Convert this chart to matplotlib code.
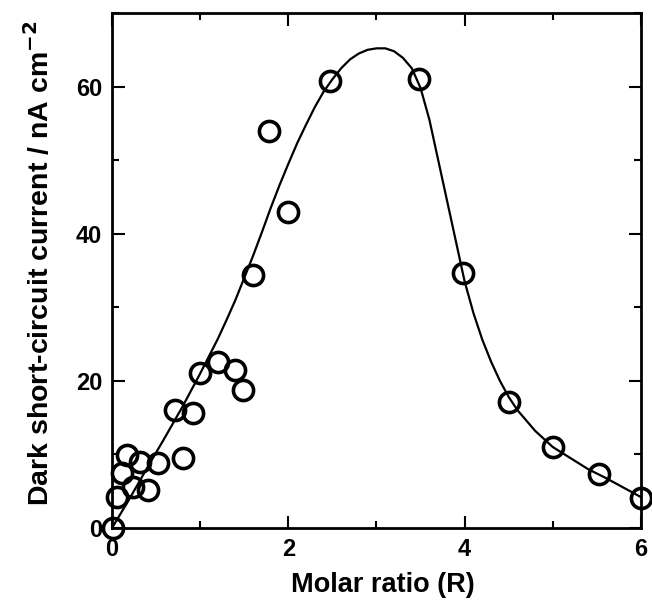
import numpy as np
import matplotlib.pyplot as plt

# measured points (molar ratio R, current nA cm-2)
ratio = [0.01, 0.06, 0.11, 0.17, 0.24, 0.32, 0.41, 0.52, 0.80,
         0.71, 0.92, 1.00, 1.20, 1.39, 1.49, 1.60, 1.78, 2.00,
         2.47, 3.48, 3.98, 4.50, 5.00, 5.52, 6.00]
current = [0.0, 4.2, 7.5, 9.9, 5.6, 9.0, 5.1, 8.9, 9.5,
           16.1, 15.6, 21.1, 22.6, 21.5, 18.8, 34.4, 53.9, 43.0,
           60.8, 61.0, 34.6, 17.1, 11.0, 7.3, 4.1]

# guide curve
curve_x = [0.0, 0.2, 0.4, 0.6, 0.8, 1.0, 1.2, 1.3, 1.4, 1.5, 1.6, 1.7, 1.8,
           1.9, 2.0, 2.1, 2.2, 2.3, 2.4, 2.5, 2.6, 2.7, 2.8, 2.9, 3.0, 3.1,
           3.2, 3.3, 3.4, 3.5, 3.6, 3.7, 3.8, 3.9, 4.0, 4.1, 4.2, 4.3, 4.4,
           4.5, 4.6, 4.8, 5.0, 5.2, 5.4, 5.6, 5.8, 6.0]
curve_y = [0.0, 4.0, 8.2, 12.3, 16.5, 21.0, 25.7, 28.3, 31.0, 34.0, 37.0, 40.2, 43.5,
           46.6, 49.5, 52.3, 54.8, 57.2, 59.3, 61.0, 62.5, 63.7, 64.5, 65.0, 65.2, 65.2,
           64.8, 63.9, 62.5, 59.8, 55.5, 50.0, 44.5, 39.0, 33.5, 29.2, 25.6, 22.6, 20.0,
           17.8, 16.0, 13.2, 11.0, 9.5, 8.0, 6.8, 5.5, 4.2]

plt.rcParams['font.family'] = ['Liberation Sans', 'DejaVu Sans']
plt.rcParams['font.weight'] = 'bold'

fig = plt.figure(figsize=(6.52, 6.03), dpi=100)
ax = fig.add_axes([0.1718, 0.1244, 0.8113, 0.854])

ax.plot(curve_x, curve_y, '-', color='black', lw=1.6)
ax.plot(ratio, current, 'o', mfc='none', mec='black', ms=14.5, mew=2.6,
        clip_on=False, zorder=5)

ax.set_xlim(0, 6)
ax.set_ylim(0, 70)
ax.set_xticks([0, 2, 4, 6])
ax.set_xticks([1, 3, 5], minor=True)
ax.set_yticks([0, 20, 40, 60])
ax.set_yticks([10, 30, 50, 70], minor=True)

for s in ax.spines.values():
    s.set_linewidth(2.0)
ax.tick_params(which='both', direction='in', top=True, right=True, width=1.5)
ax.tick_params(which='major', length=9, labelsize=17, pad=7)
ax.tick_params(which='minor', length=5)

ax.set_xlabel('Molar ratio (R)', fontsize=19.5, fontweight='bold', labelpad=9)
ax.xaxis.set_label_coords(0.513, -0.085)
ax.set_ylabel('Dark short-circuit current / nA cm$^{\\mathbf{-2}}$', fontsize=20.5,
              fontweight='bold', labelpad=6)
ax.yaxis.set_label_coords(-0.107, 0.515)

fig.savefig('out.png', dpi=100)
